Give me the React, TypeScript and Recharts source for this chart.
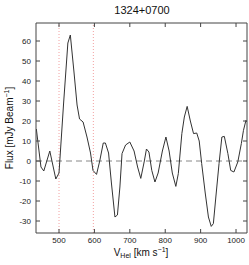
import React from 'react';
import {
  LineChart, Line, XAxis, YAxis, ReferenceLine,
} from 'recharts';

// spectrum (heliocentric velocity vs flux)
const velocities = [
  436, 449, 457, 474, 491, 500, 513, 525, 532, 542, 551, 558, 568, 579, 589, 596,
  606, 615, 625, 631, 640, 648, 658, 665, 672, 678, 688, 700, 712, 722, 731, 741,
  747, 754, 762, 771, 780, 792, 802, 811, 820, 830, 837, 847, 854, 862, 871, 880,
  889, 896, 903, 913, 922, 930, 936, 943, 952, 960, 967, 977, 985, 994, 1005, 1015,
  1021, 1028, 1031,
];
const flux = [
  16, -3, -5, 5, -9, -6, 29, 59, 63, 45, 28, 21, 19.5, 12, 4, -4.7,
  -6.7, 0, 9, 9, 4, -11, -28, -27, -13, 3.7, 8, 9.5, 5, -3, -8.7, 0,
  6, 4.5, -4.7, -10.5, -6, 5, 12, 5, -6, -12.7, -6.3, 13.7, 22, 27.3, 20, 13.7,
  14, 10, -1.3, -16, -28, -32.7, -31.3, -18, -1.3, 12, 12.3, 3.7, -4.7, -5.5, -0.5, 8.7,
  15.3, 20.3, 19.5,
];
const xTicks = [500, 600, 700, 800, 900, 1000];
const yTicks = [-30, -20, -10, 0, 10, 20, 30, 40, 50, 60];
const lineMarkers = [500, 597];
const title = '1324+0700';

const data = velocities.map((v, i) => ({ v, f: flux[i] }));

const FONT = 'Liberation Sans, Arial, sans-serif';
const AXIS = '#444';
const X_DOMAIN = [435, 1031];
const Y_DOMAIN = [-36, 69];

export default function App() {
  return (
    <div style={{ position: 'absolute', left: 0, top: 0, width: 249, height: 265, background: '#fff', fontFamily: FONT }}>
      <div style={{ position: 'absolute', top: 4, left: 0, width: 284, textAlign: 'center', fontSize: 11, color: '#111' }}>
        {title}
      </div>
      <LineChart width={249} height={265} data={data} margin={{ top: 22, right: 1, bottom: 0, left: 0 }}>
        <XAxis
          xAxisId="b" dataKey="v" type="number" domain={X_DOMAIN} ticks={xTicks}
          allowDataOverflow height={32} stroke={AXIS} tickSize={-4} tickMargin={8}
          tick={{ fontSize: 8, fill: '#222', fontFamily: FONT }}
          label={{
            content: () => (
              <text x={141} y={256} textAnchor="middle" fontSize={10} fill="#111" fontFamily={FONT}>
                V<tspan fontSize={7} dy={2}>Hel</tspan>
                <tspan dy={-2}> [km s</tspan>
                <tspan fontSize={7} dy={-4}>−1</tspan>
                <tspan dy={4}>]</tspan>
              </text>
            ),
          }}
        />
        <XAxis
          xAxisId="t" orientation="top" dataKey="v" type="number" domain={X_DOMAIN} ticks={xTicks}
          allowDataOverflow height={1} stroke={AXIS} tickSize={-4} tickFormatter={() => ''}
        />
        <YAxis
          yAxisId="l" type="number" domain={Y_DOMAIN} ticks={yTicks} allowDataOverflow
          width={36} stroke={AXIS} tickSize={-4} tickMargin={9}
          tick={{ fontSize: 8, fill: '#222', fontFamily: FONT }}
          label={{
            content: () => (
              <text x={13} y={128} textAnchor="middle" fontSize={10} fill="#111" fontFamily={FONT}
                transform="rotate(-90 13 128)">
                Flux [mJy Beam<tspan fontSize={7} dy={-4}>−1</tspan><tspan dy={4}>]</tspan>
              </text>
            ),
          }}
        />
        <YAxis
          yAxisId="r" orientation="right" type="number" domain={Y_DOMAIN} ticks={yTicks}
          allowDataOverflow width={1} stroke={AXIS} tickSize={-4} tickFormatter={() => ''}
        />
        {lineMarkers.map((x) => (
          <ReferenceLine key={x} xAxisId="b" yAxisId="l" x={x} stroke="#f2a0a0" strokeDasharray="1 2" />
        ))}
        <ReferenceLine xAxisId="b" yAxisId="l" y={0} stroke="#888" strokeDasharray="6 4" />
        {/* invisible series so the top/right frame axes get drawn */}
        <Line
          xAxisId="t" yAxisId="r" dataKey="f" stroke="none" dot={false}
          isAnimationActive={false} legendType="none"
        />
        <Line
          xAxisId="b" yAxisId="l" dataKey="f" type="linear" stroke="#333" strokeWidth={1}
          dot={false} isAnimationActive={false}
        />
      </LineChart>
    </div>
  );
}
